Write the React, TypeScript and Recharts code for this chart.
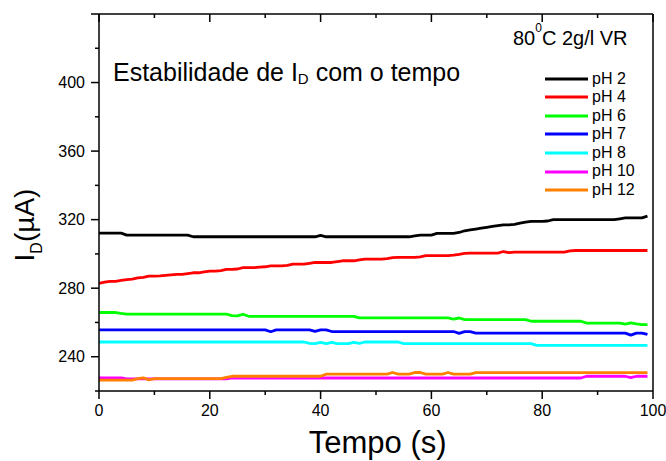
import React from 'react';
import { LineChart, Line, XAxis, YAxis, Legend } from 'recharts';

const time = [
  0, 1, 2, 3, 4, 5, 6, 7, 8, 9,
  10, 11, 12, 13, 14, 15, 16, 17, 18, 19,
  20, 21, 22, 23, 24, 25, 26, 27, 28, 29,
  30, 31, 32, 33, 34, 35, 36, 37, 38, 39,
  40, 41, 42, 43, 44, 45, 46, 47, 48, 49,
  50, 51, 52, 53, 54, 55, 56, 57, 58, 59,
  60, 61, 62, 63, 64, 65, 66, 67, 68, 69,
  70, 71, 72, 73, 74, 75, 76, 77, 78, 79,
  80, 81, 82, 83, 84, 85, 86, 87, 88, 89,
  90, 91, 92, 93, 94, 95, 96, 97, 98, 99,
];

const ph2 = [
  312.1, 312.1, 312.1, 312.1, 312.1, 311, 311, 311, 311, 311,
  311, 311, 311, 311, 311, 311, 311, 310, 310, 310,
  310, 310, 310, 310, 310, 310, 310, 310, 310, 310,
  310, 310, 310, 310, 310, 310, 310, 310, 310, 310,
  310.8, 310, 310, 310, 310, 310, 310, 310, 310, 310,
  310, 310, 310, 310, 310, 310, 310, 310.5, 311, 311,
  311, 312, 312, 312, 312, 312.5, 313.5, 314, 314.5, 315,
  315.5, 316, 316.5, 317, 317, 317.2, 318, 318.5, 319, 319,
  319, 319.2, 320, 320, 320, 320, 320, 320, 320, 320,
  320, 320, 320, 320, 320.5, 321, 321, 321, 321, 322,
];

const ph4 = [
  282.8, 283.5, 284, 284, 284.5, 285, 285.3, 286, 286.3, 287,
  287, 287.2, 287.5, 287.8, 288, 288, 288.5, 289, 289, 289.5,
  290, 290, 290.3, 291, 291, 291.2, 292, 292, 292, 292.3,
  292.5, 293, 293, 293, 293.3, 294, 294, 294, 294.5, 295,
  295, 295, 295, 295.5, 296, 296, 296, 296.5, 297, 297,
  297, 297, 297.3, 297.8, 298, 298, 298, 298, 298.3, 299,
  299, 299, 299, 299, 299.3, 299.7, 300.3, 300.5, 300.5, 300.5,
  300.5, 300.5, 300.5, 301.4, 300.7, 301, 301, 301, 301, 301,
  301, 301, 301, 301, 301, 301.8, 302, 302, 302, 302,
  302, 302, 302, 302, 302, 302, 302, 302, 302, 302,
];

const ph6 = [
  265.8, 265.8, 265.8, 265.8, 265.3, 264.9, 264.9, 264.9, 264.9, 264.9,
  264.9, 264.9, 264.9, 264.9, 264.9, 264.9, 264.9, 264.9, 264.9, 264.9,
  264.9, 264.9, 264.9, 264.9, 264, 263.8, 264.8, 263.6, 263.6, 263.6,
  263.6, 263.6, 263.6, 263.6, 263.6, 263.6, 263.6, 263.6, 263.6, 263.6,
  263.6, 263.6, 263.6, 263.6, 263.6, 263.6, 263.6, 262.7, 262.7, 262.7,
  262.7, 262.7, 262.7, 262.7, 262.7, 262.7, 262.7, 262.7, 262.7, 262.7,
  262.7, 262.7, 262.7, 262.7, 262, 262.6, 261.7, 261.7, 261.7, 261.7,
  261.7, 261.7, 261.7, 261.7, 261.7, 261.7, 261.7, 261.7, 260.7, 260.7,
  260.7, 260.7, 260.7, 260.7, 260.7, 260.7, 260.7, 260.7, 259.6, 259.6,
  259.6, 259.6, 259.6, 259.6, 259.6, 259, 259.8, 259.2, 258.7, 258.7,
];

const ph7 = [
  255.7, 255.7, 255.7, 255.7, 255.7, 255.7, 255.7, 255.7, 255.7, 255.7,
  255.7, 255.7, 255.7, 255.7, 255.7, 255.7, 255.7, 255.7, 255.7, 255.7,
  255.7, 255.7, 255.7, 255.7, 255.7, 255.7, 255.7, 255.7, 255.7, 255.7,
  255.7, 254.6, 255.7, 255.7, 255.7, 255.7, 255.7, 255.7, 255.7, 254.8,
  255.7, 255.7, 254.7, 254.7, 254.7, 254.7, 254.7, 254.7, 254.7, 254.7,
  254.7, 254.7, 254.7, 254.7, 254.7, 254.7, 254.7, 254.7, 254.7, 254.7,
  254.7, 254.7, 254.7, 254.7, 254.7, 253.6, 254.6, 254.6, 253.8, 253.8,
  253.8, 253.8, 253.8, 253.8, 253.8, 253.8, 253.8, 253.8, 253.8, 253.8,
  253.8, 253.8, 253.8, 253.8, 253.8, 253.8, 253.8, 253.8, 253.8, 253.8,
  253.8, 253.8, 253.8, 253.8, 253.8, 253.8, 252.6, 253.8, 253.8, 253,
];

const ph8 = [
  248.6, 248.6, 248.6, 248.6, 248.6, 248.6, 248.6, 248.6, 248.6, 248.6,
  248.6, 248.6, 248.6, 248.6, 248.6, 248.6, 248.6, 248.6, 248.6, 248.6,
  248.6, 248.6, 248.6, 248.6, 248.6, 248.6, 248.6, 248.6, 248.6, 248.6,
  248.6, 248.6, 248.6, 248.6, 248.6, 248.6, 248.6, 248.6, 247.8, 247.6,
  248.4, 247.6, 248.4, 247.6, 247.6, 247.6, 248.4, 247.8, 248.6, 248.6,
  248.6, 248.6, 248.6, 248.6, 248.6, 247.6, 247.6, 247.6, 247.6, 247.6,
  247.6, 247.6, 247.6, 247.6, 247.6, 247.6, 247.6, 247.6, 247.6, 247.6,
  247.6, 247.6, 247.6, 247.6, 247.6, 247.6, 247.6, 247.6, 247.6, 246.6,
  246.6, 246.6, 246.6, 246.6, 246.6, 246.6, 246.6, 246.6, 246.6, 246.6,
  246.6, 246.6, 246.6, 246.6, 246.6, 246.6, 246.6, 246.6, 246.6, 246.6,
];

const ph10 = [
  227.7, 227.7, 227.7, 227.7, 227.7, 227.1, 227.1, 227.1, 227.1, 227.1,
  227.1, 227.1, 227.1, 227.1, 227.1, 227.1, 227.1, 227.1, 227.1, 227.1,
  227.1, 227.1, 227.1, 227.1, 227.6, 227.6, 227.6, 227.6, 227.6, 227.6,
  227.6, 227.6, 227.6, 227.6, 227.6, 227.6, 227.6, 227.6, 227.6, 227.6,
  227.6, 227.6, 227.6, 227.6, 227.6, 227.6, 227.6, 227.6, 227.6, 227.6,
  227.6, 227.6, 227.6, 227.6, 227.6, 227.6, 227.6, 227.6, 227.6, 227.6,
  227.6, 227.6, 227.6, 227.6, 227.6, 227.6, 227.6, 227.6, 227.6, 227.6,
  227.6, 227.6, 227.6, 227.6, 227.6, 227.6, 227.6, 227.6, 227.6, 227.6,
  227.6, 227.6, 227.6, 227.6, 227.6, 227.6, 227.6, 227.6, 228.6, 228.6,
  228.6, 228.6, 228.6, 228.6, 228.6, 228.6, 227.8, 228.6, 228.6, 228.6,
];

const ph12 = [
  226.4, 226.4, 226.4, 226.4, 226.4, 226.4, 226.4, 227.2, 227.7, 226.5,
  227.2, 227.2, 227.2, 227.2, 227.2, 227.2, 227.2, 227.2, 227.2, 227.2,
  227.2, 227.2, 227.2, 228, 228.6, 228.6, 228.6, 228.6, 228.6, 228.6,
  228.6, 228.6, 228.6, 228.6, 228.6, 228.6, 228.6, 228.6, 228.6, 228.6,
  228.6, 229.8, 229.8, 229.8, 229.8, 229.8, 229.8, 229.8, 229.8, 229.8,
  229.8, 229.8, 229.8, 230.8, 229.8, 229.8, 229.8, 230.8, 230.8, 229.8,
  229.8, 229.8, 229.8, 230.8, 229.8, 229.8, 229.8, 229.8, 230.7, 230.7,
  230.7, 230.7, 230.7, 230.7, 230.7, 230.7, 230.7, 230.7, 230.7, 230.7,
  230.7, 230.7, 230.7, 230.7, 230.7, 230.7, 230.7, 230.7, 230.7, 230.7,
  230.7, 230.7, 230.7, 230.7, 230.7, 230.7, 230.7, 230.7, 230.7, 230.7,
];

const seriesKeys = ['ph2', 'ph4', 'ph6', 'ph7', 'ph8', 'ph10', 'ph12'];
const seriesNames = ['pH 2', 'pH 4', 'pH 6', 'pH 7', 'pH 8', 'pH 10', 'pH 12'];
const seriesColors = ['#000000', '#ff0000', '#00ff00', '#0000ff', '#00ffff', '#ff00ff', '#ff8000'];
const seriesValues = [ph2, ph4, ph6, ph7, ph8, ph10, ph12];

const xTicks = [0, 10, 20, 30, 40, 50, 60, 70, 80, 90, 100];
const xLabelTicks = [0, 20, 40, 60, 80, 100];
const yTicks = [220, 240, 260, 280, 300, 320, 340, 360, 380, 400, 420, 440];
const yMajorTicks = [240, 280, 320, 360, 400, 440];
const yLabelTicks = [240, 280, 320, 360, 400];

const data = time.map((t, i) => {
  const row: Record<string, number> = { t };
  seriesKeys.forEach((k, j) => {
    row[k] = seriesValues[j][i];
  });
  return row;
});

const FONT = '"Liberation Sans", Arial, Helvetica, sans-serif';
const MAJOR = 8;
const MINOR = 4;

const BottomTick = (props: any) => {
  const { x, y, payload } = props;
  const major = xLabelTicks.includes(payload.value);
  return (
    <g>
      <line x1={x} x2={x} y1={y} y2={y + (major ? MAJOR : MINOR)} stroke="#000" strokeWidth={1.5} />
      {major && (
        <text x={x} y={y + 25} textAnchor="middle" fontSize={16} fontFamily={FONT} fill="#000">
          {payload.value}
        </text>
      )}
    </g>
  );
};

const TopTick = (props: any) => {
  const { x, y, payload } = props;
  const major = xLabelTicks.includes(payload.value);
  return <line x1={x} x2={x} y1={y} y2={y + (major ? MAJOR : MINOR)} stroke="#000" strokeWidth={1.5} />;
};

const LeftTick = (props: any) => {
  const { x, y, payload } = props;
  const major = yMajorTicks.includes(payload.value);
  return (
    <g>
      <line x1={x} x2={x - (major ? MAJOR : MINOR)} y1={y} y2={y} stroke="#000" strokeWidth={1.5} />
      {yLabelTicks.includes(payload.value) && (
        <text x={x - 14} y={y} dy="0.36em" textAnchor="end" fontSize={16} fontFamily={FONT} fill="#000">
          {payload.value}
        </text>
      )}
    </g>
  );
};

const RightTick = (props: any) => {
  const { x, y, payload } = props;
  const major = yMajorTicks.includes(payload.value);
  return <line x1={x} x2={x - (major ? MAJOR : MINOR)} y1={y} y2={y} stroke="#000" strokeWidth={1.5} />;
};

const Annotations = () => (
  <g fontFamily={FONT} fill="#000">
    <text x={113} y={80.5} fontSize={25}>
      Estabilidade de I
      <tspan fontSize={15} dy={3}>D</tspan>
      <tspan dy={-3}> com o tempo</tspan>
    </text>
    <text x={513} y={45} fontSize={20}>
      80
      <tspan fontSize={12} dy={-13}>0</tspan>
      <tspan dy={13}>C 2g/l VR</tspan>
    </text>
    <text x={377.7} y={452.5} fontSize={31} textAnchor="middle">
      Tempo (s)
    </text>
    <text transform="translate(33.5,225) rotate(-90)" fontSize={28} textAnchor="middle">
      I<tspan fontSize={16} dy={8}>D</tspan>
      <tspan dy={-8}>(µA)</tspan>
    </text>
  </g>
);

const LegendContent = () => (
  <div style={{ fontFamily: FONT, fontSize: 16, color: '#000' }}>
    {seriesNames.map((name, j) => (
      <div key={name} style={{ display: 'flex', alignItems: 'center', height: 18.55, lineHeight: '18.55px' }}>
        <svg width={43} height={4} style={{ display: 'block' }}>
          <line x1={0} x2={43} y1={2} y2={2} stroke={seriesColors[j]} strokeWidth={3} />
        </svg>
        <span style={{ marginLeft: 4, whiteSpace: 'nowrap' }}>{name}</span>
      </div>
    ))}
  </div>
);

export default function App() {
  return (
    <div style={{ position: 'absolute', left: 0, top: 0, width: 666, height: 461, background: '#fff' }}>
      <LineChart
        width={666}
        height={461}
        data={data}
        margin={{ top: 13, right: 12, bottom: 69, left: 98 }}
      >
        <XAxis
          xAxisId="b"
          dataKey="t"
          type="number"
          domain={[0, 100]}
          ticks={xTicks}
          interval={0}
          height={1}
          tickSize={0}
          tickMargin={0}
          tickLine={false}
          axisLine={{ stroke: '#000', strokeWidth: 1.5 }}
          tick={<BottomTick />}
          label={<Annotations />}
        />
        <XAxis
          xAxisId="t"
          orientation="top"
          dataKey="t"
          type="number"
          domain={[0, 100]}
          ticks={xTicks}
          interval={0}
          height={1}
          tickSize={0}
          tickMargin={0}
          tickLine={false}
          axisLine={{ stroke: '#000', strokeWidth: 1.5 }}
          tick={<TopTick />}
        />
        <YAxis
          yAxisId="l"
          type="number"
          domain={[220, 440]}
          ticks={yTicks}
          interval={0}
          width={1}
          tickSize={0}
          tickMargin={0}
          tickLine={false}
          axisLine={{ stroke: '#000', strokeWidth: 1.5 }}
          tick={<LeftTick />}
        />
        <YAxis
          yAxisId="r"
          orientation="right"
          type="number"
          domain={[220, 440]}
          ticks={yTicks}
          interval={0}
          width={1}
          tickSize={0}
          tickMargin={0}
          tickLine={false}
          axisLine={{ stroke: '#000', strokeWidth: 1.5 }}
          tick={<RightTick />}
        />
        <Legend
          layout="vertical"
          align="center"
          verticalAlign="middle"
          content={<LegendContent />}
          wrapperStyle={{ left: 545, top: 69.5, width: 120, height: 'auto' }}
        />
        {seriesKeys.map((k, j) => (
          <Line
            key={k}
            xAxisId="b"
            yAxisId="l"
            dataKey={k}
            name={seriesNames[j]}
            stroke={seriesColors[j]}
            strokeWidth={2.8}
            dot={false}
            activeDot={false}
            isAnimationActive={false}
            strokeLinejoin="round"
          />
        ))}
      </LineChart>
    </div>
  );
}
